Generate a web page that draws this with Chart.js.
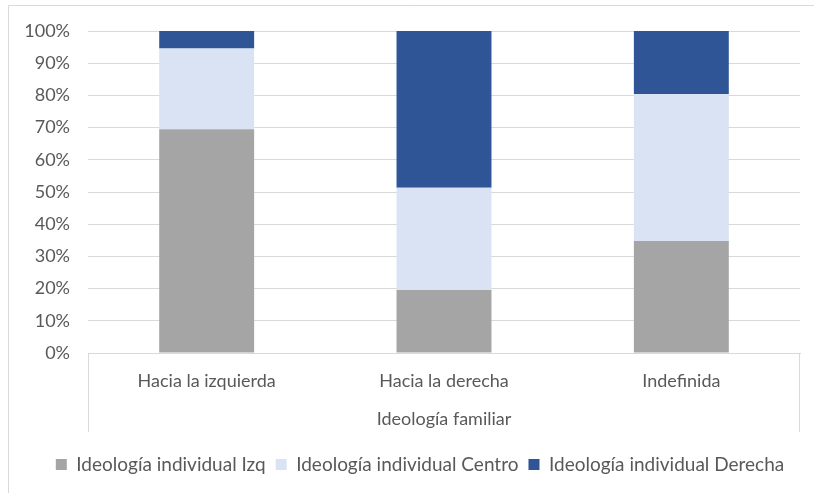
<!DOCTYPE html>
<html>
<head>
<meta charset="utf-8">
<script src="https://cdn.jsdelivr.net/npm/chart.js@4"></script>
<style>
  html, body { margin: 0; padding: 0; background: #fff; }
  #wrap { width: 814px; height: 493px; position: relative; }
</style>
</head>
<body>
<div id="wrap"><canvas id="chart"></canvas></div>
<script>
// Data
const categories = ['Hacia la izquierda', 'Hacia la derecha', 'Indefinida'];
const izq = [69.5, 19.6, 34.8];
const centro = [25.1, 31.7, 45.6];
const derecha = [5.4, 48.7, 19.6];
const yTicks = [0, 10, 20, 30, 40, 50, 60, 70, 80, 90, 100];

const textColor = '#595959';
const gridColor = '#D9D9D9';
const font = { family: 'Lato, "Open Sans", sans-serif', size: 18 };

// Frame lines: outer chart border and the category box below the axis
const framePlugin = {
    id: 'frame',
    afterLayout(chart) {
        // nudge legend so it sits centred like the original
        chart.legend.left += 20;
        chart.legend.right += 20;
    },
    afterDraw(chart) {
        const ctx = chart.ctx;
        const area = chart.chartArea;
        ctx.save();
        ctx.strokeStyle = gridColor;
        ctx.lineWidth = 1;
        ctx.beginPath();
        ctx.moveTo(8.5, 493);
        ctx.lineTo(8.5, 5.5);
        ctx.lineTo(814, 5.5);
        ctx.moveTo(Math.round(area.left) + 0.5, area.bottom);
        ctx.lineTo(Math.round(area.left) + 0.5, area.bottom + 79);
        ctx.moveTo(Math.round(area.right) - 0.5, area.bottom);
        ctx.lineTo(Math.round(area.right) - 0.5, area.bottom + 79);
        ctx.stroke();
        ctx.restore();
    }
};

const ctx = document.getElementById('chart').getContext('2d');
new Chart(ctx, {
    type: 'bar',
    data: {
        labels: categories,
        datasets: [
            { label: 'Ideología individual Izq', data: izq, backgroundColor: '#A5A5A5' },
            { label: 'Ideología individual Centro', data: centro, backgroundColor: '#DAE3F3' },
            { label: 'Ideología individual Derecha', data: derecha, backgroundColor: '#2F5597' }
        ]
    },
    options: {
        responsive: true,
        maintainAspectRatio: false,
        animation: false,
        datasets: {
            bar: { categoryPercentage: 1, barPercentage: 0.4, borderWidth: 0 }
        },
        layout: { padding: { top: 31, left: 0, right: 14, bottom: 9 } },
        plugins: {
            tooltip: { enabled: false },
            legend: {
                position: 'bottom',
                labels: {
                    color: textColor,
                    font: { family: font.family, size: 19 },
                    boxWidth: 11,
                    boxHeight: 11,
                    padding: 10
                }
            }
        },
        scales: {
            x: {
                stacked: true,
                grid: { display: false, drawTicks: false },
                border: { display: true, color: gridColor },
                ticks: { color: textColor, font: font, padding: 17 },
                title: {
                    display: true,
                    text: 'Ideología familiar',
                    color: textColor,
                    font: font,
                    padding: { top: 0, bottom: 15 }
                },
                afterFit(scale) { scale.height = 92; }
            },
            y: {
                stacked: true,
                min: 0,
                max: 100,
                afterBuildTicks(scale) { scale.ticks = yTicks.map(v => ({ value: v })); },
                grid: { color: gridColor, drawTicks: false },
                border: { display: false },
                ticks: {
                    color: textColor,
                    font: font,
                    padding: 18,
                    callback: v => v + '%'
                },
                afterFit(scale) { scale.width = 88; }
            }
        }
    },
    plugins: [framePlugin]
});
</script>
</body>
</html>
